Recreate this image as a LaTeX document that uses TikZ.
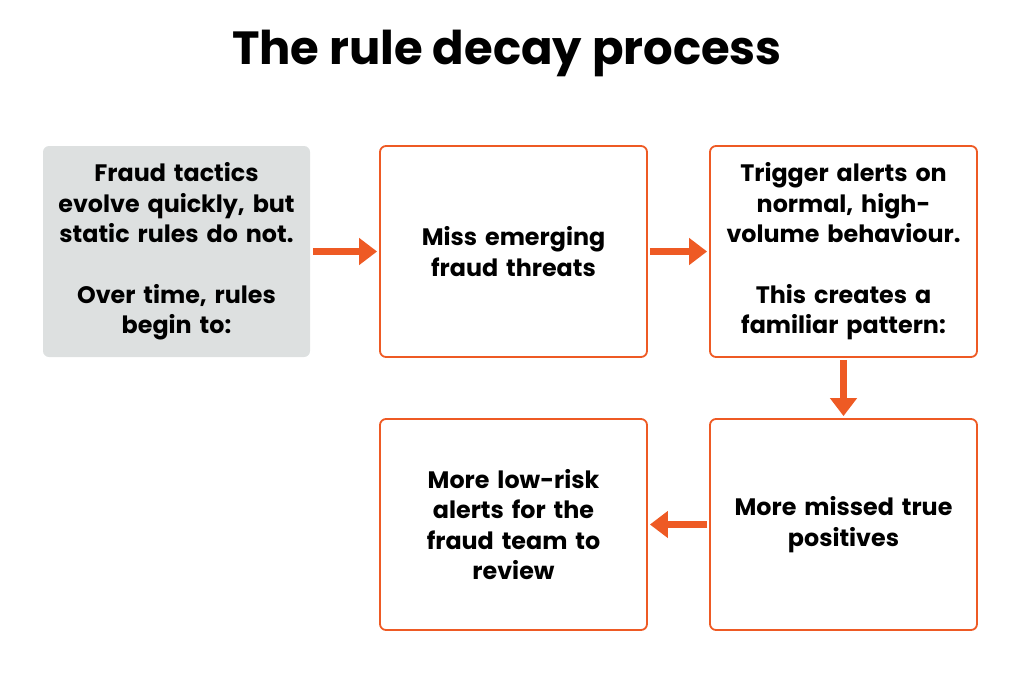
\documentclass[tikz,border=0pt]{standalone}
\usepackage{fontspec}
\setmainfont{Poppins}
\usetikzlibrary{arrows.meta}
\definecolor{org}{HTML}{EE5A24}
\definecolor{gry}{HTML}{DDE0E0}
\begin{document}
\begin{tikzpicture}[x=1pt,y=-1pt,
  box/.style={draw=org,line width=1.8pt,rounded corners=6pt,minimum width=267pt,minimum height=211pt,align=center,text width=240pt,font=\fontsize{23.8}{30.5}\selectfont\bfseries},
  gbox/.style={box,draw=none,fill=gry},
  arr/.style={org,line width=7pt,-{Triangle[length=18pt,width=26pt]},shorten >=2pt,shorten <=2pt}]
\useasboundingbox (0,0) rectangle (1024,693);
\node[font=\fontsize{46.5}{50}\selectfont\bfseries] (t) at (507,53) {The rule decay process};
\node[gbox] (a) at (176.5,251.5) {Fraud tactics\\evolve quickly, but\\static rules do not.\\[30pt]Over time, rules\\begin to:};
\node[box] (b) at (513.5,251.5) {Miss emerging\\fraud threats};
\node[box] (c) at (843.5,251.5) {Trigger alerts on\\normal, high-\\volume behaviour.\\[30pt]This creates a\\familiar pattern:};
\node[box] (d) at (843.5,524.5) {More missed true\\positives};
\node[box] (e) at (513.5,524.5) {More low-risk\\alerts for the\\fraud team to\\review};
\draw[arr] (a) -- (b);
\draw[arr] (b) -- (c);
\draw[arr] (c) -- (d);
\draw[arr] (d) -- (e);
\end{tikzpicture}
\end{document}
